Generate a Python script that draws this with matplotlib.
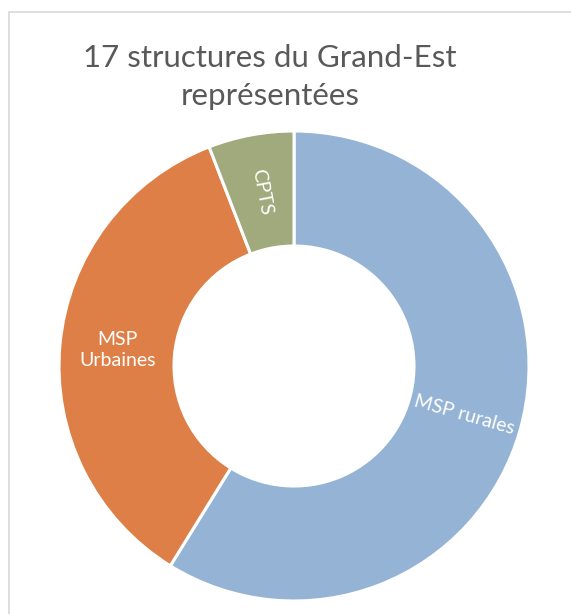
import numpy as np
import matplotlib
matplotlib.use("Agg")
import matplotlib.pyplot as plt
from matplotlib.patches import Rectangle

categories = ["MSP rurales", "MSP\nUrbaines", "CPTS"]
values = [10, 6, 1]
colors = ["#95B4D5", "#DF7F48", "#A0AA7D"]
title = "17 structures du Grand-Est\nreprésentées"

W, H = 571, 614
fig = plt.figure(figsize=(W / 100, H / 100), dpi=100)

# chart border (cropped on right and bottom)
fig.add_artist(Rectangle((9 / W, -0.1), 2.0, (H - 12) / H + 0.1,
                         transform=fig.transFigure, fill=False,
                         edgecolor="#D9D9D9", linewidth=1.2))

cx, cy, R = 294, 366, 235
ax = fig.add_axes([(cx - R) / W, (H - cy - R) / H, 2 * R / W, 2 * R / H])

hole = 120 / R
wedges, _ = ax.pie(values, colors=colors, startangle=90, counterclock=False,
                   radius=1, wedgeprops=dict(width=1 - hole, edgecolor="white",
                                             linewidth=2.2))
ax.set_xlim(-1, 1)
ax.set_ylim(-1, 1)
ax.set_aspect("equal")
ax.axis("off")

total = sum(values)
rmid = (1 + hole) / 2
start = 90.0
rots = [None, 0, None]
for i, (lab, v) in enumerate(zip(categories, values)):
    sweep = v / total * 360
    mid = start - sweep / 2
    start -= sweep
    x = rmid * np.cos(np.radians(mid))
    y = rmid * np.sin(np.radians(mid))
    if rots[i] is None:
        rot = ((mid + 180) % 360) - 180
        if rot > 90:
            rot -= 180
        if rot < -90:
            rot += 180
    else:
        rot = rots[i]
    ax.text(x, y, lab, ha="center", va="center", rotation=rot,
            rotation_mode="anchor", color="white", fontsize=14,
            family=["Lato", "DejaVu Sans"], linespacing=1.3)

fig.text(270 / W, 1 - 77 / H, title, ha="center", va="center",
         fontsize=22.5, color="#595959", family=["Lato", "DejaVu Sans"],
         linespacing=1.4)

fig.savefig("out.png", dpi=100)
